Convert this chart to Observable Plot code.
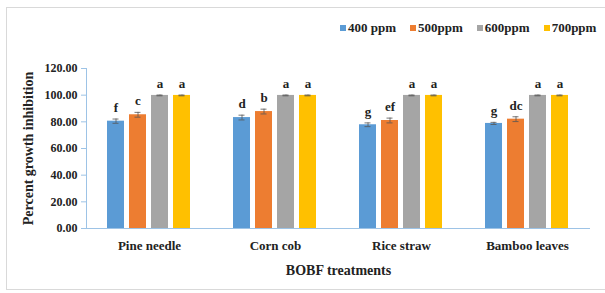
<!DOCTYPE html>
<html><head><meta charset="utf-8">
<script src="https://cdn.jsdelivr.net/npm/d3@7"></script>
<script src="https://cdn.jsdelivr.net/npm/@observablehq/plot@0.6"></script>
<style>
body{margin:0;background:#fff;font-family:"Liberation Serif",serif;}
#wrap{position:relative;width:605px;height:293px;overflow:hidden;}
#border{position:absolute;left:6px;top:7px;right:-2px;bottom:3px;border:1px solid #d9d9d9;}
#legend{position:absolute;top:20px;left:340px;width:max-content;white-space:nowrap;display:flex;font-family:"Liberation Serif",serif;font-weight:bold;font-size:13px;line-height:16px;color:#222;}
#legend span.item{display:flex;align-items:center;margin-right:14px;white-space:nowrap;}
#legend span.sw{display:inline-block;width:6px;height:6px;margin-right:2px;}
svg{position:absolute;left:0;top:0;}
</style></head>
<body><div id="wrap"><div id="border"></div><div id="chart"></div><div id="legend"></div></div>
<script>
const categories = ["Pine needle", "Corn cob", "Rice straw", "Bamboo leaves"];
const series = ["400 ppm", "500ppm", "600ppm", "700ppm"];
const colors = ["#5b9bd5", "#ed7d31", "#a5a5a5", "#ffc000"];
const values400 = [80.5, 83.2, 77.8, 78.8];
const values500 = [85.3, 87.7, 81.0, 82.0];
const values600 = [99.8, 99.8, 99.8, 99.8];
const values700 = [99.8, 99.8, 99.8, 99.8];
const err400 = [1.6, 1.8, 1.4, 0.8];
const err500 = [1.8, 1.8, 1.8, 1.8];
const err600 = [0.3, 0.3, 0.3, 0.3];
const err700 = [0.3, 0.3, 0.3, 0.3];
const letters400 = ["f", "d", "g", "g"];
const letters500 = ["c", "b", "ef", "dc"];
const letters600 = ["a", "a", "a", "a"];
const letters700 = ["a", "a", "a", "a"];
const yTicks = [0, 20, 40, 60, 80, 100, 120];

const vals = [values400, values500, values600, values700];
const errs = [err400, err500, err600, err700];
const lets = [letters400, letters500, letters600, letters700];
const data = [];
categories.forEach((c, ci) => series.forEach((s, si) => {
  data.push({cat: c, ser: s, v: vals[si][ci], e: errs[si][ci], lab: lets[si][ci]});
}));

const axisColor = "#9dc3e6";
const font = "'Liberation Serif', serif";
const chart = Plot.plot({
  width: 605, height: 293,
  marginLeft: 86, marginRight: 15, marginTop: 68, marginBottom: 65,
  style: {fontFamily: font, fontWeight: "bold", fontSize: "12px", color: "#222", background: "transparent"},
  fx: {domain: categories, padding: 0, label: null},
  x: {domain: series, paddingInner: 0.22, paddingOuter: 0.91, axis: null},
  y: {domain: [0, 120]},
  color: {domain: series, range: colors},
  marks: [
    Plot.axisY({ticks: yTicks, tickFormat: d => d.toFixed(2), tickSize: 5, stroke: axisColor, fill: "#222",
      fontSize: 12, label: null}),
    Plot.axisY({ticks: [], tickSize: 0, label: "Percent growth inhibition", labelAnchor: "center",
      labelArrow: "none", labelOffset: 63, fontSize: 14}),
    Plot.axisFx({anchor: "bottom", tickSize: 0, tickPadding: 12, fontSize: 13, label: null}),
    Plot.axisFx({anchor: "bottom", ticks: [], tickSize: 0, label: "BOBF treatments", labelAnchor: "center",
      labelArrow: "none", labelOffset: 46, fontSize: 14}),
    Plot.frame({anchor: "left", stroke: axisColor, facetAnchor: "left"}),
    Plot.barY(data, {fx: "cat", x: "ser", y: "v", fill: "ser"}),
    Plot.ruleX(data, {fx: "cat", x: "ser", y1: d => d.v - d.e, y2: d => d.v + d.e, stroke: "#555", strokeWidth: 0.8}),
    Plot.tickY(data, {fx: "cat", x: "ser", y: d => d.v - d.e, stroke: "#555", strokeWidth: 0.8, inset: 5.5}),
    Plot.tickY(data, {fx: "cat", x: "ser", y: d => d.v + d.e, stroke: "#555", strokeWidth: 0.8, inset: 5.5}),
    Plot.ruleY([0], {stroke: axisColor, strokeWidth: 1.2}),
    Plot.text(data, {fx: "cat", x: "ser", y: d => d.v + d.e, text: "lab", dy: -7, lineAnchor: "bottom",
      fontSize: 13, fontWeight: "bold", fill: "#222"})
  ]
});
document.getElementById("chart").appendChild(chart);
const lg = document.getElementById("legend");
series.forEach((s, i) => {
  const it = document.createElement("span"); it.className = "item";
  const sw = document.createElement("span"); sw.className = "sw"; sw.style.background = colors[i];
  it.appendChild(sw); it.appendChild(document.createTextNode(s));
  lg.appendChild(it);
});
</script></body></html>
